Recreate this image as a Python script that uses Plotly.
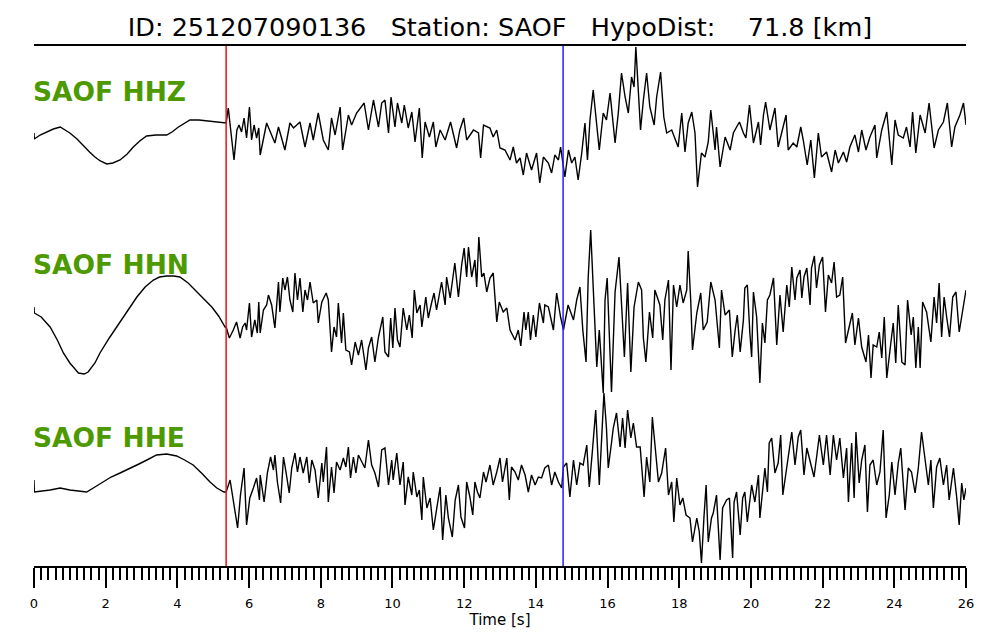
import plotly.graph_objects as go

# ---------------- data ----------------
title_text = "ID: 251207090136\u00a0\u00a0\u00a0Station: SAOF\u00a0\u00a0\u00a0HypoDist:\u00a0\u00a0\u00a0\u00a071.8 [km]"
channels = ["SAOF HHZ", "SAOF HHN", "SAOF HHE"]
p_pick = 5.36   # s
s_pick = 14.76  # s
x_ticks = list(range(0, 27, 2))

t_z = [0.0, 0.01, 0.17, 0.35, 0.54, 0.73, 1.0, 1.20, 1.38, 1.55, 1.70, 1.85, 2.03, 2.20, 2.40, 2.60, 2.77, 2.95,
       3.14, 3.40, 3.70, 3.85, 4.03, 4.20, 4.35, 4.60, 4.82, 5.05, 5.28, 5.36,
       5.42, 5.50, 5.58, 5.66, 5.72, 5.79, 5.86, 5.93, 6.01, 6.07, 6.14, 6.21, 6.27, 6.31,
       6.49, 6.72, 6.82, 7.00, 7.14, 7.24, 7.42, 7.56, 7.70, 7.79, 7.93, 8.07, 8.21, 8.30, 8.40, 8.54, 8.61,
       8.77, 8.86, 9.00, 9.10, 9.21, 9.33, 9.47, 9.61, 9.70, 9.79, 9.89, 9.96, 10.07, 10.14, 10.26, 10.33,
       10.44, 10.54, 10.63, 10.75, 10.83, 10.91, 11.03, 11.14, 11.21, 11.33, 11.47, 11.62, 11.79, 11.88,
       11.99, 12.07, 12.26, 12.40, 12.46, 12.54, 12.72, 12.81, 12.91, 13.00, 13.14,
       13.28, 13.37, 13.46, 13.56, 13.65, 13.74, 13.88, 14.02, 14.11, 14.21, 14.35, 14.44, 14.53, 14.63,
       14.69, 14.81, 14.91, 15.00, 15.09, 15.18, 15.28, 15.37, 15.44, 15.51, 15.60, 15.70, 15.77, 15.88,
       15.97, 16.07, 16.21, 16.30, 16.39, 16.49, 16.58, 16.67, 16.74, 16.79, 16.86, 16.92, 17.00, 17.09,
       17.18, 17.30, 17.37, 17.48, 17.57, 17.65, 17.79, 17.88, 17.97, 18.07, 18.16, 18.25, 18.35, 18.44,
       18.51, 18.62, 18.72, 18.81, 18.88, 19.00, 19.04, 19.14, 19.28, 19.42, 19.51,
       19.60, 19.68, 19.79, 19.86, 19.96, 20.07, 20.21, 20.27, 20.35, 20.41, 20.53, 20.67, 20.76, 20.86,
       20.98, 21.04, 21.18, 21.28, 21.39, 21.46, 21.57, 21.67, 21.77, 21.88, 21.97, 22.11, 22.25, 22.35,
       22.44, 22.58, 22.67, 22.76, 22.90, 23.00, 23.09, 23.21, 23.32, 23.46, 23.51, 23.65, 23.79, 23.93,
       24.02, 24.11, 24.25, 24.34, 24.44, 24.51, 24.60, 24.72, 24.86, 24.97, 25.11, 25.23, 25.37, 25.48,
       25.60, 25.69, 25.83, 25.93, 26.0]
hhz = [-3, -9, -5, -2, 1, 3, -3, -9, -16, -22, -27, -31, -34, -33, -30, -24, -17, -11,
       -6, -5, -5, -2, 3, 7, 10, 10, 9, 8, 7, 7,
       22, -5, -30, 0, 5, -2, 12, -8, 23, -10, 5, -8, 2, -25,
       7, -13, 3, -20, 7, 2, 8, -17, 7, -10, 17, -10, -20, 12, -5, 23, -20,
       15, 5, 17, 22, 27, 0, 30, 3, 27, 30, -3, 33, 3, 27, 7, 25,
       2, 18, -12, 22, -28, 8, -7, 8, -17, 0, -10, 8, -18, 0,
       12, -10, 0, -3, -28, 5, 2, -7, 0, -18, -20,
       -30, -17, -33, -28, -45, -23, -40, -23, -53, -27, -33, -43, -25, -30,
       -17, -47, -20, -33, -27, -50, -23, 7, -30, 10, 40, 5, -20, 17,
       10, 37, -13, 17, 57, 33, 17, 53, 43, 83, 30, 0, 30, 57,
       23, 5, 33, 58, 13, -3, 0, -8, -17, 17, -22, 7, 18, -3,
       -57, -23, -27, -12, 20, -20, 3, -37, -7, -20, -3,
       3, 8, -3, -8, 25, -13, 8, -15, 15, 28, 0, 22, -17, -2,
       15, -20, -13, -17, 3, -10, -35, -10, -48, -3, -27, -22, -42, -20,
       -33, -22, -32, -17, -5, -22, 0, -20, -7, 5, -28, 0, 18, -35,
       10, -5, -8, 3, -17, 18, -23, 15, -3, 27, -18, 0, 8, 27,
       -17, 3, 15, 27, 5]

t_n = [0.0, 0.01, 0.20, 0.45, 0.65, 0.82, 1.0, 1.24, 1.40, 1.51, 1.70, 1.84, 2.10, 2.31, 2.60, 2.87, 3.10,
       3.33, 3.50, 3.70, 3.90, 4.07, 4.30, 4.54, 4.75, 4.96, 5.15, 5.33, 5.36,
       5.45, 5.56, 5.65, 5.75, 5.82, 5.89, 5.93, 6.01, 6.07, 6.16, 6.23, 6.27,
       6.31, 6.40, 6.49, 6.54, 6.63, 6.72, 6.82, 6.86, 6.94, 7.00, 7.07, 7.14, 7.22, 7.28, 7.35, 7.42,
       7.50, 7.56, 7.63, 7.70, 7.79, 7.89, 7.93, 8.03, 8.15, 8.21, 8.30, 8.37, 8.44, 8.49, 8.58, 8.63,
       8.70, 8.80, 8.86, 8.96, 9.05, 9.14, 9.26, 9.33, 9.42, 9.51, 9.61, 9.73, 9.79, 9.89, 9.95, 10.01,
       10.07, 10.14, 10.21, 10.30, 10.40, 10.47, 10.55, 10.61, 10.68, 10.77, 10.82, 10.93, 11.00, 11.09,
       11.16, 11.23, 11.37, 11.47, 11.51, 11.61, 11.74, 11.84, 11.93, 12.00, 12.07, 12.12, 12.21, 12.30,
       12.35, 12.41, 12.49, 12.55, 12.63, 12.72, 12.81, 12.91, 12.98, 13.09, 13.19, 13.28,
       13.42, 13.51, 13.58, 13.67, 13.72, 13.79, 13.85, 13.93, 14.00, 14.10, 14.21, 14.25, 14.35, 14.49,
       14.58, 14.69, 14.77, 14.90, 15.05, 15.14, 15.23, 15.31, 15.40, 15.46, 15.53, 15.60, 15.70, 15.77,
       15.84, 15.88, 15.93, 15.99, 16.11, 16.21, 16.32, 16.42, 16.47, 16.56, 16.65, 16.74, 16.86, 16.95,
       17.00, 17.07, 17.17, 17.26, 17.32, 17.46, 17.54, 17.60, 17.70, 17.77, 17.84, 17.93, 18.02, 18.11,
       18.21, 18.25, 18.32, 18.37, 18.49, 18.60, 18.67, 18.78, 18.88, 19.00, 19.12, 19.18, 19.28, 19.40,
       19.48, 19.56, 19.62, 19.70, 19.79, 19.83, 19.90, 19.97, 20.02, 20.07, 20.16, 20.25, 20.32, 20.39,
       20.46, 20.53, 20.63, 20.72, 20.81, 20.90, 21.00, 21.07, 21.14, 21.23, 21.28, 21.37, 21.42, 21.48,
       21.56, 21.65, 21.69, 21.77, 21.83, 21.91, 22.00, 22.08, 22.16, 22.25, 22.32, 22.39, 22.48, 22.56,
       22.64, 22.74, 22.83, 22.90, 23.00, 23.09, 23.21, 23.28, 23.35, 23.41, 23.51, 23.58, 23.65, 23.72,
       23.79, 23.88, 23.97, 24.04, 24.11, 24.21, 24.30, 24.37, 24.47, 24.53, 24.60, 24.67, 24.72, 24.79,
       24.90, 25.02, 25.11, 25.18, 25.25, 25.32, 25.39, 25.46, 25.54, 25.63, 25.72, 25.81, 25.91, 26.0]
hhn = [3, -3, -7, -17, -30, -43, -53, -63, -64, -62, -53, -43, -28, -17, -1, 13, 23,
       30, 33, 34, 34, 33, 27, 18, 11, 3, -6, -17, -17,
       -28, -20, -12, -28, -17, -13, -20, 7, -27, -10, -23, 8,
       -23, 0, 5, 15, 5, -18, 28, -2, 32, 20, 33, 10, -2, 37, 10, 32,
       -2, 20, 10, 28, 7, 10, -13, 8, 17, 10, -42, -17, -27, 7, -33, -3,
       -40, -42, -55, -32, -45, -30, -60, -38, -27, -52, -27, -7, -42, -47, -8, -38,
       2, -30, -37, 2, -20, -5, -28, 20, -3, 5, -17, 13, -8, 7,
       17, 0, 28, 5, 33, 12, 47, 13, 45, 62, 33, 63, 33, 50,
       23, 73, 33, 37, 18, 32, 37, -12, 8, -2, 2, -20,
       -30, -20, -36, -2, -20, -2, -30, -5, -27, 7, -13, 5, 3, -20,
       17, -7, -20, 5, -10, 10, 23, -20, -52, 32, 80, 23, -57, -20,
       -67, -83, 10, 32, -82, 18, 53, -10, -47, 27, -62, 3, 28, 20,
       -28, -52, -2, -28, 20, 5, -30, 10, 30, -60, 25, 3, 25, 7,
       20, 59, 10, -40, -3, 17, -20, -12, 28, 10, -38, 20, -5, 0,
       -47, -20, -5, -42, -10, 22, 25, -23, -47, 18, -7, -73, -13, -33,
       10, 15, 32, -35, 15, -22, 25, 3, 43, 10, 32, 40, 12, 33,
       42, 5, 42, 54, 22, 45, 53, -2, 35, 27, 48, 13, 15, 33,
       -33, -17, -3, -35, -8, -37, -52, -25, -68, -35, -37, -22, -48, -7,
       -68, -40, -13, -53, 5, -52, -55, 10, -25, -7, -58, -17, -58, 8,
       -2, -32, 13, -13, 27, -27, 13, -7, -27, 13, 18, -22, 0, 20]

t_e = [0.0, 0.01, 0.45, 0.73, 1.0, 1.25, 1.47, 1.70, 1.93, 2.15, 2.40, 2.65, 2.87, 3.15, 3.42, 3.70, 3.98,
       4.20, 4.44, 4.70, 4.91, 5.10, 5.30, 5.36,
       5.47, 5.61, 5.68, 5.76, 5.86, 5.93, 6.02, 6.12, 6.21, 6.29,
       6.31, 6.42, 6.51, 6.60, 6.68, 6.72, 6.79, 6.88, 6.96, 7.03, 7.12, 7.19, 7.28, 7.35, 7.42, 7.51,
       7.61, 7.68, 7.75, 7.84, 7.93, 8.03, 8.07, 8.16, 8.21, 8.30, 8.37, 8.44, 8.54, 8.63, 8.70, 8.77,
       8.83, 8.91, 8.98, 9.05, 9.14, 9.23, 9.33, 9.42, 9.51, 9.61, 9.70, 9.79, 9.89, 9.98, 10.02, 10.12,
       10.21, 10.30, 10.35, 10.44, 10.54, 10.58, 10.68, 10.75, 10.82, 10.86, 10.96, 11.05, 11.14, 11.23,
       11.33, 11.40, 11.49, 11.56, 11.67, 11.75, 11.84, 11.91, 12.01, 12.07, 12.16, 12.24, 12.30, 12.37,
       12.44, 12.54, 12.61, 12.72, 12.81, 12.91, 13.00, 13.07, 13.19, 13.26,
       13.32, 13.42, 13.51, 13.60, 13.70, 13.79, 13.88, 13.98, 14.07, 14.16, 14.25, 14.35, 14.44, 14.53,
       14.63, 14.72, 14.77, 14.86, 14.95, 15.05, 15.14, 15.23, 15.32, 15.42, 15.49, 15.58, 15.67, 15.77,
       15.84, 15.90, 15.97, 16.02, 16.11, 16.16, 16.25, 16.35, 16.42, 16.49, 16.56, 16.65, 16.72, 16.81,
       16.91, 16.95, 17.02, 17.09, 17.18, 17.25, 17.32, 17.42, 17.51, 17.62, 17.70, 17.79, 17.85, 17.93,
       18.02, 18.10, 18.19, 18.30, 18.37, 18.49, 18.56, 18.62, 18.69, 18.75, 18.81, 18.90, 18.95, 19.04,
       19.14, 19.21, 19.32, 19.40, 19.49,
       19.53, 19.60, 19.70, 19.77, 19.83, 19.90, 19.97, 20.02, 20.11, 20.21, 20.25, 20.33, 20.39, 20.46,
       20.51, 20.58, 20.67, 20.76, 20.83, 20.89, 20.98, 21.07, 21.14, 21.23, 21.32, 21.39, 21.48, 21.56,
       21.65, 21.76, 21.85, 21.91, 22.02, 22.11, 22.21, 22.30, 22.39, 22.48, 22.58, 22.67, 22.72, 22.81,
       22.88, 22.93, 23.02, 23.09, 23.18, 23.25, 23.32, 23.41, 23.51, 23.60, 23.69, 23.77, 23.86, 23.93,
       24.02, 24.11, 24.18, 24.30, 24.39, 24.48, 24.58, 24.67, 24.76, 24.86, 24.95, 25.02, 25.09, 25.18,
       25.27, 25.37, 25.46, 25.53, 25.65, 25.74, 25.81, 25.88, 25.94, 26.0]
hhe = [7, -5, -3, -1, -3, -4, -5, 0, 5, 10, 14, 18, 22, 27, 32, 33, 31,
       27, 22, 13, 5, -1, -5, -5,
       7, -25, -41, -8, 19, -38, -11, -1, 9, -13,
       12, -15, 14, 30, 17, 32, 5, -16, 30, 15, -6, 19, 34, 15, 30, 14,
       30, 4, 27, 17, -11, 24, 5, 40, -15, 20, -6, 25, 17, 29, 20, 40,
       9, 30, 14, 32, 25, 19, 47, 22, 14, 0, 37, 39, 2, 27, 7, 34,
       2, 25, -18, 10, -8, 15, -10, -3, -33, 10, -21, -11, -43, -21,
       0, -53, -8, -31, -50, -13, 2, -30, -41, 5, -10, -28, 5, -5,
       -11, 15, 5, 22, 2, 15, 29, 5, 29, -13,
       20, 15, 7, 22, 12, -5, 12, 2, 10, 9, 19, 22, 2, 15,
       5, -1, 20, 24, -10, 27, 2, 24, 22, 42, 0, 37, 77, 2,
       50, 94, 59, 19, 44, 59, 74, 40, 69, 39, 77, 49, 64, 40,
       40, 19, -10, 30, 5, 70, 45, 5, 14, 39, -8, 5, -35, 9,
       -18, -11, -28, -31, -55, -31, -45, -76, -30, 2, -55, -31, -26, -8,
       -73, -21, -13, -11, -71,
       -15, -5, -48, -11, -5, -35, -11, 2, -15, 12, -31, 2, 19, -5,
       44, 49, 14, 24, 52, -8, 15, 35, 55, 22, 50, 57, 12, 39,
       27, 10, 35, 52, 22, 52, 12, 52, 27, 49, 9, 39, -15, 44,
       -11, 55, 4, 27, 42, -25, 22, 27, 2, 15, 57, -31, -8, 25,
       -8, 24, 39, -23, 19, 15, -6, 19, 55, 25, 2, 27, -21, 20,
       29, 2, 22, -13, 19, -10, -38, 4, -13, -1]

# vertical offsets of the three traces (display layout)
offsets = [0, -180, -357]
label_levels = [39, -134, -307]

# ---------------- figure ----------------
fig = go.Figure()
series = [(t_z, hhz), (t_n, hhn), (t_e, hhe)]
for (tt, vv), off, name in zip(series, offsets, channels):
    fig.add_trace(go.Scatter(x=tt, y=[v + off for v in vv], mode="lines",
                             line=dict(color="black", width=1.4), name=name,
                             showlegend=False, hoverinfo="skip"))

for xv, col in [(p_pick, "#ee1111"), (s_pick, "#2222ff")]:
    fig.add_shape(type="line", xref="x", yref="paper", x0=xv, x1=xv, y0=0, y1=1,
                  line=dict(color=col, width=1.5), layer="above")

for name, lv in zip(channels, label_levels):
    fig.add_annotation(text="<b>" + name + "</b>", xref="paper", x=0, xanchor="left", xshift=-3,
                       yref="y", y=lv, yanchor="middle", showarrow=False,
                       font=dict(family="DejaVu Sans", size=26.5, color="#4c9a00"))

# the page body has an 8px default margin, so margins compensate for it
fig.update_layout(
    width=1000, height=640,
    margin=dict(l=26, r=42, t=38, b=82),
    paper_bgcolor="white", plot_bgcolor="white",
    font=dict(family="DejaVu Sans", color="black"),
    title=dict(text=title_text, x=(500 - 8) / 1000, xanchor="center", y=1 - 19 / 640, yanchor="middle",
               font=dict(family="DejaVu Sans", size=25.5, color="black")),
    xaxis=dict(range=[0, 26], tickmode="array", tickvals=x_ticks,
               showgrid=False, zeroline=False, showline=True, mirror=True,
               linecolor="black", linewidth=2,
               ticks="outside", ticklen=20, tickwidth=2, tickcolor="black",
               ticklabelstandoff=4,
               tickfont=dict(size=13, family="DejaVu Sans"),
               minor=dict(dtick=0.2, ticks="outside", ticklen=12, tickwidth=2, tickcolor="black", showgrid=False),
               title=dict(text="Time [s]", font=dict(size=15, family="DejaVu Sans"), standoff=2)),
    yaxis=dict(range=[-436, 84], visible=False, showgrid=False, zeroline=False),
)

fig.write_html("out.html")
